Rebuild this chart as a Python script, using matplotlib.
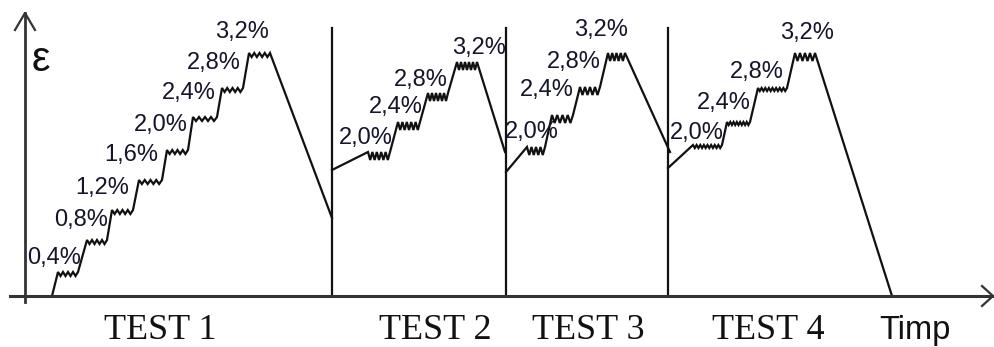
import matplotlib
matplotlib.use("Agg")
import matplotlib.pyplot as plt
import numpy as np

# ---------------- data (time units / strain-height units) -------------
test_names = ["TEST 1", "TEST 2", "TEST 3", "TEST 4"]

t1_levels = ["0,4%", "0,8%", "1,2%", "1,6%", "2,0%", "2,4%", "2,8%", "3,2%"]
t1_start = (52, 0)
t1_step_x0 = [58, 87, 112, 139, 167, 193, 222, 249]
t1_step_x1 = [78, 107, 133, 162, 188, 217, 243, 270]
t1_step_h = [24, 56, 86, 116, 146, 179, 208, 243]
t1_end = (332, 78)

t2_levels = ["2,0%", "2,4%", "2,8%", "3,2%"]
t2_start = (332, 126)
t2_step_x0 = [368, 398, 428, 457]
t2_step_x1 = [390, 420, 448, 477]
t2_step_h = [144, 174, 203, 234]
t2_end = (505, 144)

t3_levels = ["2,0%", "2,4%", "2,8%", "3,2%"]
t3_start = (506, 124)
t3_step_x0 = [527, 552, 580, 608]
t3_step_x1 = [545, 573, 600, 625]
t3_step_h = [149, 181, 209, 243]
t3_end = (670, 144)

t4_levels = ["2,0%", "2,4%", "2,8%", "3,2%"]
t4_start = (668, 128)
t4_step_x0 = [693, 727, 758, 795]
t4_step_x1 = [722, 750, 787, 815]
t4_step_h = [151, 174, 208, 243]
t4_end = (892, 0)

separators_x = [332, 506, 668]

# ---------------- layout / style ----------------
# label anchors (right edge x, centre height)
t1_lab_x = [81, 108, 129, 158, 188, 216, 241, 269]
t1_lab_h = [38, 76, 108, 141, 171, 203, 233, 264]
t2_lab_x = [393, 423, 448, 506]
t2_lab_h = [158, 189, 216, 248]
t3_lab_x = [559, 574, 601, 628]
t3_lab_h = [164, 206, 234, 266]
t4_lab_x = [724, 751, 784, 834]
t4_lab_h = [163, 193, 224, 263]

test_label_x = [160, 435, 588, 768]

tests = [
    dict(start=t1_start, x0=t1_step_x0, x1=t1_step_x1, h=t1_step_h, end=t1_end,
         levels=t1_levels, lx=t1_lab_x, lh=t1_lab_h, amp=[4] * 8, teeth=[4] * 8),
    dict(start=t2_start, x0=t2_step_x0, x1=t2_step_x1, h=t2_step_h, end=t2_end,
         levels=t2_levels, lx=t2_lab_x, lh=t2_lab_h, amp=[8, 8, 8, 8], teeth=[5, 5, 5, 5]),
    dict(start=t3_start, x0=t3_step_x0, x1=t3_step_x1, h=t3_step_h, end=t3_end,
         levels=t3_levels, lx=t3_lab_x, lh=t3_lab_h, amp=[8, 8, 8, 8], teeth=[4, 4, 4, 4]),
    dict(start=t4_start, x0=t4_step_x0, x1=t4_step_x1, h=t4_step_h, end=t4_end,
         levels=t4_levels, lx=t4_lab_x, lh=t4_lab_h, amp=[3, 3, 3, 8], teeth=[8, 7, 8, 4]),
]

W, H = 994, 347
fig = plt.figure(figsize=(W / 100, H / 100), dpi=100)
ax = fig.add_axes([0, 0, 1, 1])
ax.set_xlim(0, W)
ax.set_ylim(-51, 296)
ax.axis("off")

line_kw = dict(color="#111111", lw=1.6, solid_joinstyle="miter")


def zigzag(x0, x1, h, amp, teeth):
    """Decorative cycling wiggle drawn along a hold step."""
    xs = [x0]
    ys = [h]
    n = 2 * teeth
    for i in range(1, n + 1):
        xs.append(x0 + (x1 - x0) * i / n)
        ys.append(h - amp if i % 2 == 1 else h)
    return xs, ys


for t in tests:
    xs = [t["start"][0]]
    ys = [t["start"][1]]
    for x0, x1, h, a, n in zip(t["x0"], t["x1"], t["h"], t["amp"], t["teeth"]):
        zx, zy = zigzag(x0, x1, h, a, n)
        xs += zx
        ys += zy
    xs.append(t["end"][0])
    ys.append(t["end"][1])
    ax.plot(xs, ys, **line_kw)
    for lab, lx, lh in zip(t["levels"], t["lx"], t["lh"]):
        ax.text(lx, lh, lab, ha="right", va="center", fontsize=17,
                family="Liberation Sans", color="#15152a")

# separators
for sx in separators_x:
    ax.plot([sx, sx], [0, 268], color="#111111", lw=1.6)

# axes with open arrow heads
axis_col = "#333333"
ax.plot([25, 25], [-6, 283], color=axis_col, lw=2)
ax.plot([15, 25, 35], [266, 283, 266], color=axis_col, lw=1.6)
ax.plot([10, 993], [0, 0], color=axis_col, lw=2.2)
ax.plot([982, 993, 982], [10, 0, -10], color=axis_col, lw=1.6)

# texts
ax.text(41, 236, "ε", ha="center", va="center", fontsize=30,
        family="Liberation Sans", color="#111111")
for name, tx in zip(test_names, test_label_x):
    ax.text(tx, -43, name, ha="center", va="baseline", fontsize=26,
            family="Liberation Serif", color="#111111")
ax.text(915, -43, "Timp", ha="center", va="baseline", fontsize=23.5,
        family="Liberation Sans", color="#111111")

fig.savefig("out.png", dpi=100)
